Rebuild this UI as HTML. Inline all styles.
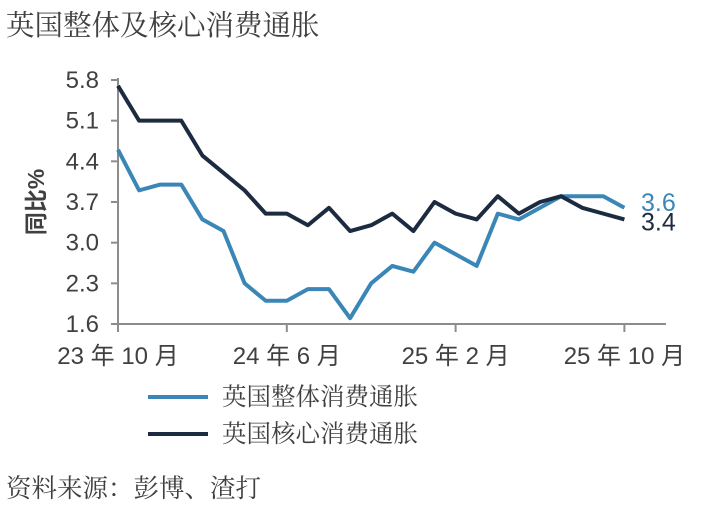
<!DOCTYPE html>
<html><head><meta charset="utf-8"><style>
body{margin:0;background:#fff;width:702px;height:520px;overflow:hidden;font-family:"Liberation Sans","Noto Sans CJK SC",sans-serif}
</style></head><body>
<svg id="c" width="702" height="520" style="position:absolute;left:0;top:0">
<text x="6" y="35" font-size="28.5" fill="#404040" font-family="Noto Serif CJK SC, serif">英国整体及核心消费通胀</text>
<text transform="translate(44,202) rotate(-90)" text-anchor="middle" font-size="23" font-weight="bold" fill="#404040">同比%</text>
<text x="6" y="497" font-size="25.5" fill="#404040" font-family="Noto Serif CJK SC, serif">资料来源：彭博、渣打</text>
</svg>
<script>
const yTicks=[1.6,2.3,3.0,3.7,4.4,5.1,5.8];
const xLabels=["23 年 10 月","24 年 6 月","25 年 2 月","25 年 10 月"];
const xLabelIdx=[0,8,16,24];
const headline=[4.6,3.9,4.0,4.0,3.4,3.2,2.3,2.0,2.0,2.2,2.2,1.7,2.3,2.6,2.5,3.0,2.8,2.6,3.5,3.4,3.6,3.8,3.8,3.8,3.6];
const core=[5.7,5.1,5.1,5.1,4.5,4.2,3.9,3.5,3.5,3.3,3.6,3.2,3.3,3.5,3.2,3.7,3.5,3.4,3.8,3.5,3.7,3.8,3.6,3.5,3.4];
const seriesNames=["英国整体消费通胀","英国核心消费通胀"];
const colors=["#3a87b7","#1c2b3f"];
const svg=document.getElementById('c');const NS="http://www.w3.org/2000/svg";
const x0=118,dx=21.1,yTop=80,yBot=324,vMin=1.6,vMax=5.8;
const X=i=>x0+i*dx;const Y=v=>yBot-(v-vMin)/(vMax-vMin)*(yBot-yTop);
function mk(t,a){const e=document.createElementNS(NS,t);for(const k in a)e.setAttribute(k,a[k]);svg.appendChild(e);return e;}
let e=mk('line',{x1:x0,y1:yTop-2,x2:x0,y2:yBot,stroke:'#8c8c8c','stroke-width':2});


e=mk('line',{x1:x0,y1:yBot,x2:666,y2:yBot,stroke:'#8c8c8c','stroke-width':2});


yTicks.forEach(v=>{
 const t=mk('line',{x1:x0-7,y1:Y(v),x2:x0,y2:Y(v),stroke:'#8c8c8c','stroke-width':2});
 
 
 const l=mk('text',{x:x0-19,y:Y(v)+8,'text-anchor':'end','font-size':24,fill:'#404040'});l.textContent=v.toFixed(1);
 
 
});
xLabels.forEach((s,k)=>{
 const xx=X(xLabelIdx[k]);
 const t=mk('line',{x1:xx,y1:yBot,x2:xx,y2:yBot+8,stroke:'#8c8c8c','stroke-width':2});
 
 
 const l=mk('text',{x:xx,y:yBot+40,'text-anchor':'middle','font-size':24,fill:'#404040'});l.textContent=s;
 
 
});
[headline,core].forEach((d,s)=>{
 const p=mk('polyline',{points:d.map((v,i)=>X(i)+','+Y(v)).join(' '),fill:'none',stroke:colors[s],'stroke-width':4,'stroke-linejoin':'round'});
 
 
 const last=d[d.length-1];
 const l=mk('text',{x:641,y:Y(last)+(s?11:3),'font-size':25,fill:colors[s]});l.textContent=last.toFixed(1);
 
 
 const ly=397+s*37;
 const ll=mk('line',{x1:148,y1:ly,x2:208,y2:ly,stroke:colors[s],'stroke-width':4});
 
 
 const lt=mk('text',{x:222,y:ly+8,'font-size':24.5,fill:'#404040','font-family':'Noto Serif CJK SC, serif'});lt.textContent=seriesNames[s];
 
 
});
</script>
</body></html>
